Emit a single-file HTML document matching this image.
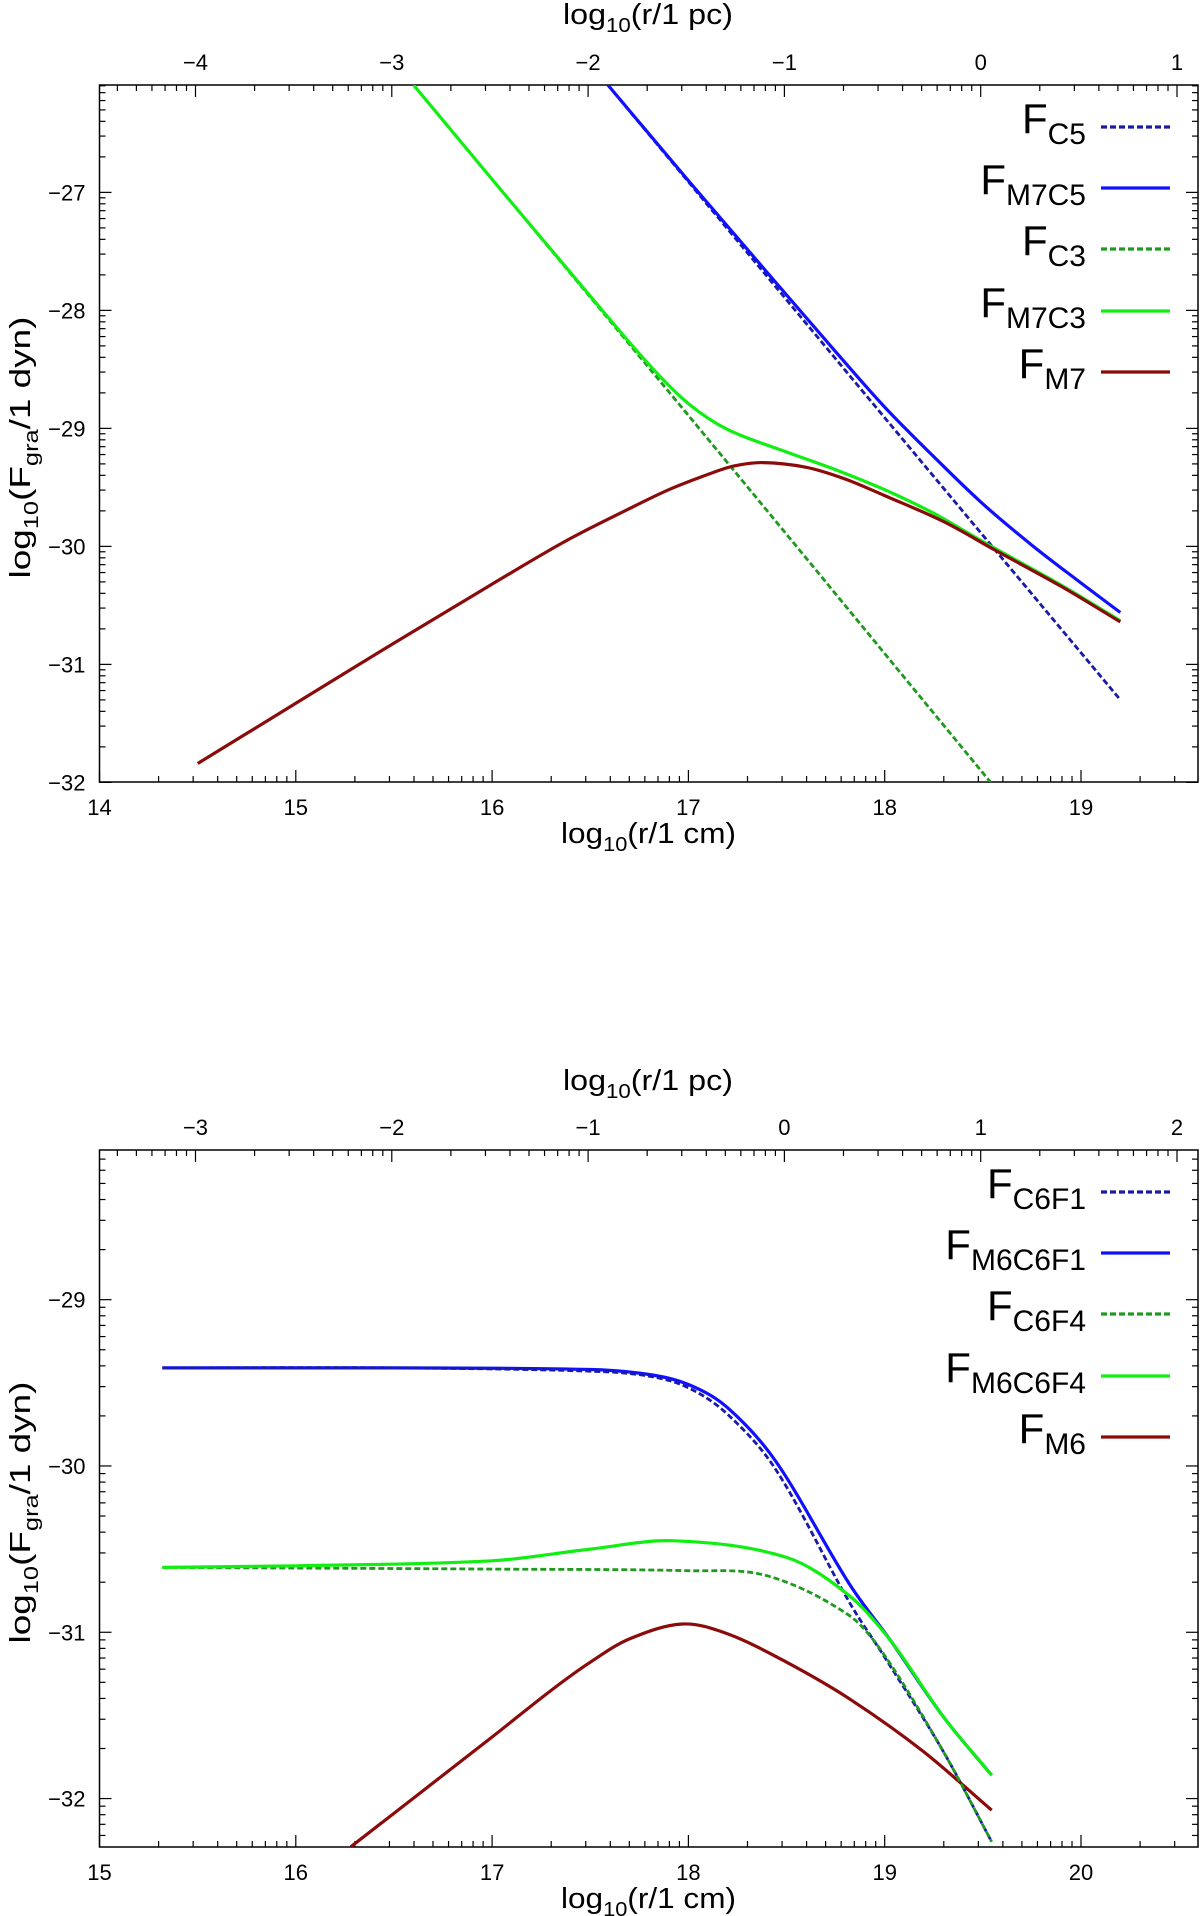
<!DOCTYPE html>
<html><head><meta charset="utf-8"><style>
html,body{margin:0;padding:0;background:#fff;}
svg{display:block;font-family:"Liberation Sans",sans-serif;}
</style></head><body>
<svg id="fig" width="1200" height="1916" viewBox="0 0 1200 1916" xmlns="http://www.w3.org/2000/svg"></svg>
<script>
// ---------- Top chart data ----------
const topC5X = [16.59, 17.9, 19.2];
const topC5Y = [-26.09, -28.71, -31.30];
const topM7C5X = [16.59, 17.0, 17.5, 17.75, 18.0, 18.25, 18.5, 18.75, 19.0, 19.2];
const topM7C5Y = [-26.09, -26.90, -27.87, -28.35, -28.82, -29.24, -29.64, -29.99, -30.31, -30.56];
const topC3X = [15.6, 17.0, 18.54];
const topC3Y = [-26.09, -28.89, -32.0];
const topM7C3X = [15.6, 16.0, 16.5, 16.8, 17.0, 17.2, 17.5, 17.75, 18.0, 18.25, 18.5, 18.9, 19.2];
const topM7C3Y = [-26.09, -26.89, -27.88, -28.46, -28.79, -29.01, -29.20, -29.35, -29.52, -29.72, -29.96, -30.33, -30.63];
const topM7X = [14.5, 15.0, 15.5, 16.0, 16.38, 16.7, 16.9, 17.1, 17.23, 17.38, 17.6, 17.8, 18.0, 18.3, 18.56, 18.9, 19.2];
const topM7Y = [-31.84, -31.33, -30.82, -30.32, -29.95, -29.68, -29.52, -29.39, -29.32, -29.29, -29.33, -29.43, -29.57, -29.79, -30.03, -30.34, -30.64];
const topYTicks = [-27, -28, -29, -30, -31, -32];
const topXTicks = [14, 15, 16, 17, 18, 19];
const topPcTicks = [-4, -3, -2, -1, 0, 1];
// ---------- Bottom chart data ----------
const botC6F1X = [15.32, 16.5, 17.5, 17.8, 18.0, 18.2, 18.45, 18.82, 19.0, 19.3, 19.545];
const botC6F1Y = [-29.41, -29.41, -29.43, -29.46, -29.53, -29.69, -30.03, -30.82, -31.15, -31.72, -32.26];
const botM6C6F1X = [15.32, 16.5, 17.5, 17.8, 18.0, 18.2, 18.45, 18.82, 19.03, 19.3, 19.545];
const botM6C6F1Y = [-29.41, -29.41, -29.42, -29.45, -29.51, -29.65, -29.98, -30.71, -31.05, -31.51, -31.86];
const botC6F4X = [15.32, 17.0, 18.0, 18.4, 18.82, 19.0, 19.3, 19.545];
const botC6F4Y = [-30.61, -30.62, -30.63, -30.66, -30.90, -31.14, -31.72, -32.26];
const botM6C6F4X = [15.32, 16.0, 17.0, 17.5, 17.93, 18.5, 18.82, 19.03, 19.3, 19.545];
const botM6C6F4Y = [-30.61, -30.60, -30.57, -30.50, -30.45, -30.55, -30.78, -31.05, -31.51, -31.86];
const botM6X = [16.28, 17.0, 17.3, 17.5, 17.7, 17.97, 18.2, 18.5, 18.82, 19.2, 19.545];
const botM6Y = [-32.29, -31.63, -31.35, -31.18, -31.04, -30.95, -31.01, -31.18, -31.40, -31.72, -32.07];
const botYTicks = [-29, -30, -31, -32];
const botXTicks = [15, 16, 17, 18, 19, 20];
const botPcTicks = [-3, -2, -1, 0, 1, 2];

const NS = "http://www.w3.org/2000/svg";
const svg = document.getElementById('fig');
const PC = 18.489;
function mk(tag, attrs, parent) {
  const e = document.createElementNS(NS, tag);
  for (const k in attrs) e.setAttribute(k, attrs[k]);
  (parent || svg).appendChild(e);
  return e;
}
function spline(pts) {
  const n = pts.length;
  const m = pts.map((p, i) => {
    if (n < 3) return (pts[1][1] - pts[0][1]) / (pts[1][0] - pts[0][0]);
    const a = pts[Math.max(0, i - 1)], b = pts[Math.min(n - 1, i + 1)];
    return (b[1] - a[1]) / (b[0] - a[0]);
  });
  let d = `M${pts[0][0].toFixed(1)},${pts[0][1].toFixed(1)}`;
  for (let i = 0; i < n - 1; i++) {
    const p1 = pts[i], p2 = pts[i + 1], dx = (p2[0] - p1[0]) / 3;
    d += ` C${(p1[0] + dx).toFixed(1)},${(p1[1] + m[i] * dx).toFixed(1)} ${(p2[0] - dx).toFixed(1)},${(p2[1] - m[i + 1] * dx).toFixed(1)} ${p2[0].toFixed(1)},${p2[1].toFixed(1)}`;
  }
  return d;
}
function chart(cfg) {
  const g = mk('g', {});
  
  
  const L = 99.5, R = 1198, T = cfg.top, B = cfg.bottom;
  const sx = v => L + (v - cfg.xmin) * 196.3;
  const sy = v => T + (cfg.ymax - v) * cfg.yunit;
  const ymin = cfg.ymax - (B - T) / cfg.yunit;
  const clip = mk('clipPath', {id: cfg.name + '-clip'}, g);
  mk('rect', {x: L, y: T, width: R - L, height: B - T}, clip);
  const fr = mk('rect', {x: L, y: T, width: R - L, height: B - T, fill: 'none', stroke: '#000', 'stroke-width': 1.5}, g);
  
  
  const xmax = cfg.xmin + (R - L) / 196.3;
  for (let n = Math.floor(cfg.xmin); n <= xmax; n++) {
    for (let k = 1; k <= 9; k++) {
      const v = n + Math.log10(k);
      if (v < cfg.xmin || v > xmax) continue;
      const len = k === 1 ? 12 : 6;
      mk('line', {x1: sx(v), x2: sx(v), y1: B, y2: B - len, stroke: '#000', 'stroke-width': 1.2}, g);
    }
  }
  cfg.xticks.forEach(t => {
    const tx = mk('text', {x: sx(t), y: B + 33, 'text-anchor': 'middle', 'font-size': 22}, g);
    tx.textContent = t;
    
    
  });
  for (let n = -6; n <= 3; n++) {
    for (let k = 1; k <= 9; k++) {
      const v = n + Math.log10(k) + PC;
      if (v < cfg.xmin || v > xmax) continue;
      const len = k === 1 ? 12 : 6;
      mk('line', {x1: sx(v), x2: sx(v), y1: T, y2: T + len, stroke: '#000', 'stroke-width': 1.2}, g);
    }
  }
  cfg.pcticks.forEach(t => {
    const tx = mk('text', {x: sx(t + PC), y: cfg.pcLabelY, 'text-anchor': 'middle', 'font-size': 22}, g);
    tx.textContent = t < 0 ? '\u2212' + (-t) : t;
    
    
  });
  for (let n = Math.floor(ymin) - 1; n <= cfg.ymax; n++) {
    for (let k = 2; k <= 9; k++) {
      const v = n + Math.log10(k);
      if (v < ymin || v > cfg.ymax) continue;
      mk('line', {x1: L, x2: L + 6, y1: sy(v), y2: sy(v), stroke: '#000', 'stroke-width': 1.2}, g);
      mk('line', {x1: R, x2: R - 6, y1: sy(v), y2: sy(v), stroke: '#000', 'stroke-width': 1.2}, g);
    }
  }
  cfg.yticks.forEach(t => {
    mk('line', {x1: L, x2: L + 12, y1: sy(t), y2: sy(t), stroke: '#000', 'stroke-width': 1.2}, g);
    mk('line', {x1: R, x2: R - 12, y1: sy(t), y2: sy(t), stroke: '#000', 'stroke-width': 1.2}, g);
    const tx = mk('text', {x: L - 14, y: sy(t) + 8, 'text-anchor': 'end', 'font-size': 22}, g);
    tx.textContent = '\u2212' + (-t);
    
    
  });
  const xt = mk('text', {x: 561, y: cfg.xTitleY, 'font-size': 29, textLength: 175, lengthAdjust: 'spacingAndGlyphs'}, g);
  xt.innerHTML = 'log<tspan font-size="20" dy="8">10</tspan><tspan dy="-8">(r/1 cm)</tspan>';
  
  
  const pt = mk('text', {x: 563, y: cfg.pcTitleY, 'font-size': 29, textLength: 170, lengthAdjust: 'spacingAndGlyphs'}, g);
  pt.innerHTML = 'log<tspan font-size="20" dy="8">10</tspan><tspan dy="-8">(r/1 pc)</tspan>';
  
  
  const cy = (T + B) / 2 + 15;
  const yt = mk('text', {x: -130, y: 0, 'font-size': 29, textLength: 262, lengthAdjust: 'spacingAndGlyphs', transform: `translate(30,${cy}) rotate(-90)`}, g);
  yt.innerHTML = 'log<tspan font-size="20" dy="8">10</tspan><tspan dy="-8">(F</tspan><tspan font-size="20" dy="8">gra</tspan><tspan dy="-8">/1 dyn)</tspan>';
  
  
  const plotG = mk('g', {'clip-path': `url(#${cfg.name}-clip)`}, g);
  cfg.series.forEach(s => {
    const pts = s.x.map((v, i) => [sx(v), sy(s.y[i])]);
    const p = mk('path', {d: spline(pts), fill: 'none', stroke: s.color, 'stroke-width': s.dash ? 2.8 : 3.2, 'stroke-dasharray': s.dash ? '6 3' : 'none', 'stroke-linejoin': 'round'}, plotG);
    
    
  });
  cfg.legend.forEach((s, i) => {
    const y = cfg.legendY[i];
    const lt = mk('text', {x: 1086, y: y + 6, 'text-anchor': 'end', 'font-size': 42}, g);
    lt.innerHTML = `F<tspan font-size="30" dy="11">${s.sub}</tspan>`;
    
    
    const ll = mk('line', {x1: 1101, x2: 1170, y1: y, y2: y, stroke: s.color, 'stroke-width': 3.2, 'stroke-dasharray': s.dash ? '6 3' : 'none'}, g);
    
    
  });
}
const BLUE_D = '#1a1aa8', BLUE = '#1010ff', GREEN_D = '#1f9a1f', GREEN = '#11ee11', BROWN = '#8b0a0a';
const topSeries = [
  {id: 'fc5', sub: 'C5', x: topC5X, y: topC5Y, color: BLUE_D, dash: true},
  {id: 'fm7c5', sub: 'M7C5', x: topM7C5X, y: topM7C5Y, color: BLUE, dash: false},
  {id: 'fc3', sub: 'C3', x: topC3X, y: topC3Y, color: GREEN_D, dash: true},
  {id: 'fm7c3', sub: 'M7C3', x: topM7C3X, y: topM7C3Y, color: GREEN, dash: false},
  {id: 'fm7', sub: 'M7', x: topM7X, y: topM7Y, color: BROWN, dash: false}
];
chart({name: 'top-chart', top: 85, bottom: 782, xmin: 14, ymax: -26.09, yunit: 118,
  xticks: topXTicks, yticks: topYTicks, pcticks: topPcTicks,
  pcLabelY: 70, pcTitleY: 24, xTitleY: 843,
  series: [topSeries[2], topSeries[0], topSeries[3], topSeries[4], topSeries[1]],
  legend: topSeries, legendY: [127, 188, 249, 311, 372]});
const botSeries = [
  {id: 'fc6f1', sub: 'C6F1', x: botC6F1X, y: botC6F1Y, color: BLUE_D, dash: true},
  {id: 'fm6c6f1', sub: 'M6C6F1', x: botM6C6F1X, y: botM6C6F1Y, color: BLUE, dash: false},
  {id: 'fc6f4', sub: 'C6F4', x: botC6F4X, y: botC6F4Y, color: GREEN_D, dash: true},
  {id: 'fm6c6f4', sub: 'M6C6F4', x: botM6C6F4X, y: botM6C6F4Y, color: GREEN, dash: false},
  {id: 'fm6', sub: 'M6', x: botM6X, y: botM6Y, color: BROWN, dash: false}
];
chart({name: 'bottom-chart', top: 1150, bottom: 1847, xmin: 15, ymax: -28.1, yunit: 166.3,
  xticks: botXTicks, yticks: botYTicks, pcticks: botPcTicks,
  pcLabelY: 1135, pcTitleY: 1090, xTitleY: 1908,
  series: [botSeries[1], botSeries[0], botSeries[4], botSeries[2], botSeries[3]],
  legend: botSeries, legendY: [1192, 1253, 1314, 1376, 1437]});
</script>
</body></html>
